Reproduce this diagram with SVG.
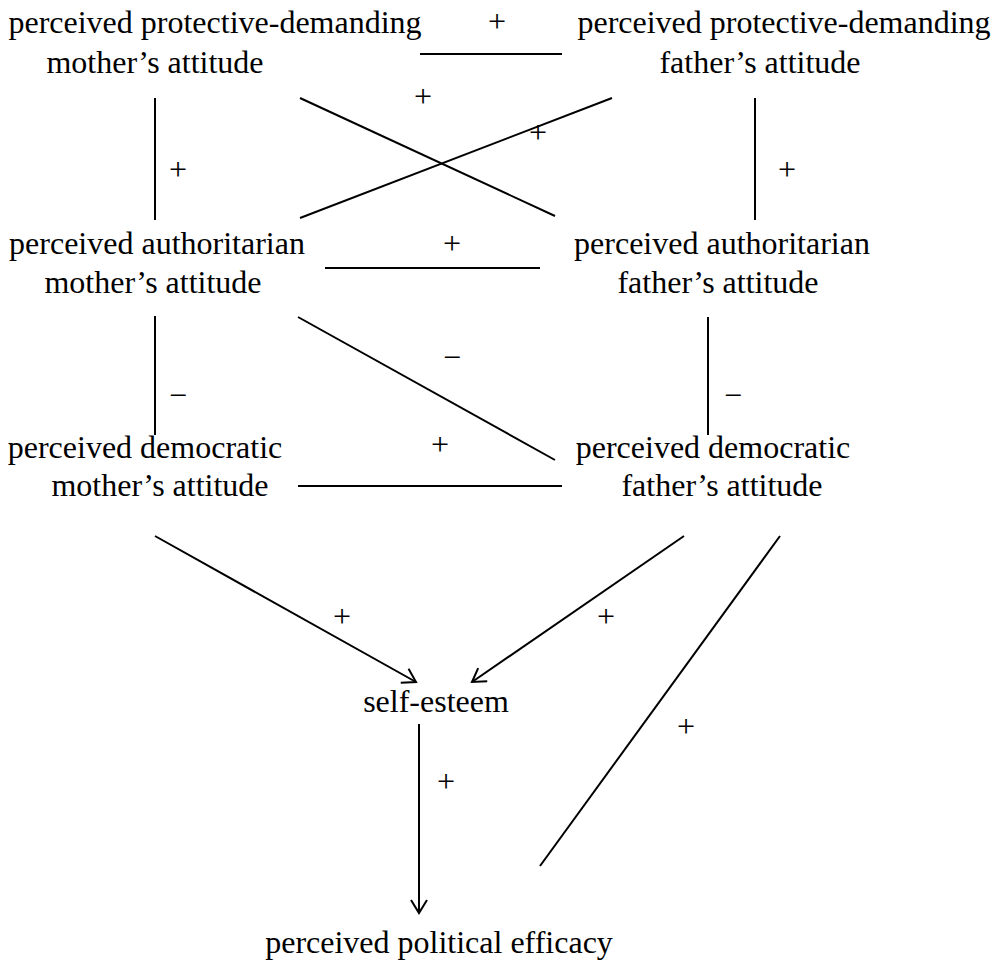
<svg xmlns="http://www.w3.org/2000/svg" width="1001" height="978" viewBox="0 0 1001 978">
<style>
text{font-family:"Liberation Serif","Times New Roman",serif;font-size:32px;fill:#000;text-anchor:middle}
.c line{stroke:#000;stroke-width:2;fill:none}
</style>
<defs>
<marker id="ah" viewBox="-14 -9 16 18" markerWidth="16" markerHeight="18" refX="0" refY="0" orient="auto" markerUnits="userSpaceOnUse">
<path d="M-13,-8 L0,0 L-13,8" fill="none" stroke="#000" stroke-width="2"/>
</marker>
</defs>
<rect width="1001" height="978" fill="#fff"/>
<g id="pd-mother"><text x="215" y="33">perceived protective-demanding</text><text x="155" y="73">mother’s attitude</text></g>
<g id="pd-father"><text x="784" y="33">perceived protective-demanding</text><text x="760" y="73">father’s attitude</text></g>
<g id="auth-mother"><text x="157" y="254">perceived authoritarian</text><text x="153" y="293">mother’s attitude</text></g>
<g id="auth-father"><text x="722" y="254">perceived authoritarian</text><text x="718" y="293">father’s attitude</text></g>
<g id="dem-mother"><text x="145" y="458">perceived democratic</text><text x="160" y="496">mother’s attitude</text></g>
<g id="dem-father"><text x="713" y="458">perceived democratic</text><text x="722" y="496">father’s attitude</text></g>
<g id="self-esteem"><text x="436" y="712">self-esteem</text></g>
<g id="efficacy"><text x="439" y="953">perceived political efficacy</text></g>
<g class="c" id="connectors">
<line x1="420" y1="54" x2="562" y2="54"/>
<line x1="155" y1="98" x2="155" y2="220"/>
<line x1="755" y1="98" x2="755" y2="220"/>
<line x1="300" y1="98" x2="555" y2="216"/>
<line x1="612" y1="98" x2="300" y2="218"/>
<line x1="325" y1="268" x2="540" y2="268"/>
<line x1="155" y1="316" x2="155" y2="435"/>
<line x1="708" y1="317" x2="708" y2="435"/>
<line x1="298" y1="317" x2="555" y2="460"/>
<line x1="298" y1="486" x2="562" y2="486"/>
<line x1="155" y1="536" x2="416" y2="682" marker-end="url(#ah)"/>
<line x1="684" y1="536" x2="472" y2="682" marker-end="url(#ah)"/>
<line x1="780" y1="536" x2="540" y2="866"/>
<line x1="419" y1="724" x2="419" y2="913" marker-end="url(#ah)"/>
</g>
<g id="labels">
<text x="497" y="32">+</text>
<text x="178" y="180">+</text>
<text x="787" y="180">+</text>
<text x="423" y="107">+</text>
<text x="538" y="143">+</text>
<text x="452" y="254">+</text>
<text x="178" y="406">−</text>
<text x="733" y="406">−</text>
<text x="452" y="368">−</text>
<text x="440" y="455">+</text>
<text x="342" y="627">+</text>
<text x="606" y="627">+</text>
<text x="686" y="737">+</text>
<text x="446" y="792">+</text>
</g>
</svg>
